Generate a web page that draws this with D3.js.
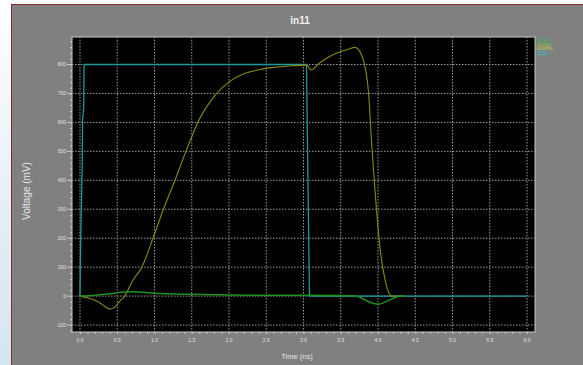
<!doctype html>
<html>
	<head>
		<script src="https://d3js.org/d3.v7.min.js"></script>
		<style>
			body { margin: 0; background: #fff; }
			text { font-family: "Liberation Sans", Arial, sans-serif; }
		</style>
	</head>
	<body>
		<div id="chart"></div>
		<script>
            // series: [time (ns), voltage (mV)]
            const vCtl = [[0, 0], [0.01, 200], [0.03, 450], [0.035, 610], [0.05, 650], [0.055, 800],
                [3.04, 800], [3.06, 400], [3.08, 0], [6.0, 0]];
            const vOut = [[0, 0], [0.1, -6], [0.2, -14], [0.27, -24], [0.33, -35], [0.4, -45], [0.47, -38],
                [0.53, -18], [0.6, 0], [0.71, 55], [0.83, 100], [0.98, 200], [1.12, 300], [1.275, 400],
                [1.43, 505], [1.6, 610], [1.8, 690], [2.0, 740], [2.2, 768], [2.4, 782], [2.6, 790],
                [2.8, 795], [3.0, 798], [3.05, 797], [3.1, 781], [3.22, 806], [3.35, 828], [3.49, 844],
                [3.6, 853], [3.69, 859], [3.78, 833], [3.87, 712], [3.92, 505], [3.97, 330], [4.03, 159],
                [4.1, 50], [4.18, 0], [4.33, 0]];
            const vIn = [[0, 0], [0.2, 3], [0.4, 8], [0.55, 13], [0.7, 15], [0.85, 13], [1.0, 10], [1.5, 6],
                [2.0, 4], [2.5, 3], [3.0, 3], [3.5, 2], [3.7, 0], [3.8, -10], [3.9, -22], [4.0, -28],
                [4.1, -20], [4.2, -8], [4.3, 0], [4.35, 0]];
            const seriesNames = ["vIn11", "vOut11", "vC11"];
            const xTicks = d3.range(0, 6.01, 0.5);
            const yTicks = d3.range(-100, 801, 100);

            const width = 583, height = 365;
            const pLeft = 72, pRight = 535, pTop = 37, pBottom = 332;

            const x = d3.scaleLinear().domain([-0.107, 6.107]).range([pLeft, pRight]);
            const y = d3.scaleLinear().domain([-124, 895]).range([pBottom, pTop]);

            const svg = d3.select("#chart")
                .append("svg")
                .attr("width", width)
                .attr("height", height);

            // desktop strip on the left
            const grad = svg.append("defs").append("linearGradient")
                .attr("id", "bg").attr("x1", 0).attr("y1", 0).attr("x2", 0).attr("y2", 1);
            grad.append("stop").attr("offset", "0%").attr("stop-color", "#ffffff");
            grad.append("stop").attr("offset", "60%").attr("stop-color", "#e4eef6");
            grad.append("stop").attr("offset", "100%").attr("stop-color", "#d2e6f0");
            svg.append("rect").attr("width", 11).attr("height", height).attr("fill", "url(#bg)");

            svg.append("rect")
                .attr("x", 11).attr("y", 4)
                .attr("width", width).attr("height", height)
                .attr("fill", "#808080");
            svg.append("path")
                .attr("d", "M11.5," + height + "V4.5H" + width)
                .attr("fill", "none")
                .attr("stroke", "#8b2a2a");

            svg.append("text")
                .attr("x", 300).attr("y", 24)
                .attr("text-anchor", "middle")
                .attr("font-size", 10).attr("font-weight", "bold")
                .attr("fill", "#f0f0f0")
                .text("in11");

            svg.append("rect")
                .attr("x", pLeft).attr("y", pTop)
                .attr("width", pRight - pLeft).attr("height", pBottom - pTop)
                .attr("fill", "#000")
                .attr("stroke", "#c8c8c8").attr("stroke-width", 1);

            // grid
            svg.selectAll("line.gx")
                .data(xTicks)
                .enter().append("line")
                .attr("class", "gx")
                .attr("x1", x).attr("x2", x)
                .attr("y1", pTop).attr("y2", pBottom)
                .attr("stroke", "#9a9a9a").attr("stroke-dasharray", "1.5,1.5");

            svg.selectAll("line.gy")
                .data(yTicks)
                .enter().append("line")
                .attr("class", "gy")
                .attr("x1", pLeft).attr("x2", pRight)
                .attr("y1", y).attr("y2", y)
                .attr("stroke", "#9a9a9a").attr("stroke-dasharray", "1.5,1.5");

            // axes
            const xAxis = d3.axisBottom(x).tickValues(d3.range(0, 6.01, 0.1))
                .tickSize(2).tickFormat("");
            svg.append("g").attr("transform", "translate(0," + pBottom + ")").call(xAxis)
                .call(g => g.select(".domain").remove())
                .call(g => g.selectAll("line").attr("stroke", "#c8c8c8"));

            svg.selectAll("text.xl")
                .data(xTicks)
                .enter().append("text")
                .attr("class", "xl")
                .attr("x", x).attr("y", 342)
                .attr("text-anchor", "middle")
                .attr("font-size", 5).attr("fill", "#e0e0e0")
                .text(d3.format(".1f"));

            const yAxis = d3.axisLeft(y).tickValues(d3.range(-120, 881, 20))
                .tickSize(2).tickFormat("");
            svg.append("g").attr("transform", "translate(" + pLeft + ",0)").call(yAxis)
                .call(g => g.select(".domain").remove())
                .call(g => g.selectAll("line").attr("stroke", "#c8c8c8"));

            svg.selectAll("line.ymaj")
                .data(yTicks)
                .enter().append("line")
                .attr("class", "ymaj")
                .attr("x1", pLeft - 5).attr("x2", pLeft)
                .attr("y1", y).attr("y2", y)
                .attr("stroke", "#c8c8c8");

            svg.selectAll("text.yl")
                .data(yTicks)
                .enter().append("text")
                .attr("class", "yl")
                .attr("x", 66).attr("y", y)
                .attr("dy", "0.35em")
                .attr("text-anchor", "end")
                .attr("font-size", 5).attr("fill", "#e0e0e0")
                .text(String);

            svg.append("text")
                .attr("transform", "translate(30,191) rotate(-90)")
                .attr("text-anchor", "middle")
                .attr("font-size", 10).attr("fill", "#e4e4e4")
                .text("Voltage (mV)");

            svg.append("text")
                .attr("x", 297).attr("y", 359)
                .attr("text-anchor", "middle")
                .attr("font-size", 7.5).attr("fill", "#e4e4e4")
                .text("Time (ns)");

            // traces
            const line = d3.line().x(d => x(d[0])).y(d => y(d[1]));
            const smooth = d3.line().x(d => x(d[0])).y(d => y(d[1])).curve(d3.curveMonotoneX);
            const plot = svg.append("g");
            plot.append("path").datum(vCtl)
                .attr("d", line).attr("fill", "none")
                .attr("stroke", "#1b9a9e").attr("stroke-width", 1.3);
            plot.append("path").datum(vOut)
                .attr("d", smooth).attr("fill", "none")
                .attr("stroke", "#8a8a10").attr("stroke-width", 1.1);
            plot.append("path").datum(vIn)
                .attr("d", smooth).attr("fill", "none")
                .attr("stroke", "#1e921e").attr("stroke-width", 1.5);

            // legend
            const legendColors = ["#3cc23c", "#c8c83a", "#2ec4cc"];
            const legend = svg.selectAll("g.leg")
                .data(seriesNames)
                .enter().append("g")
                .attr("class", "leg")
                .attr("transform", (d, i) => "translate(537," + (42 + i * 5.5) + ")");
            legend.append("text")
                .attr("font-size", 4.5)
                .attr("fill", (d, i) => legendColors[i])
                .text(d => d);
            legend.append("line")
                .attr("x1", 0).attr("x2", (d, i) => [15, 16, 11][i])
                .attr("y1", 1.5).attr("y2", 1.5)
                .attr("stroke", (d, i) => legendColors[i]).attr("stroke-width", 0.8);
		</script>
	</body>
</html>
